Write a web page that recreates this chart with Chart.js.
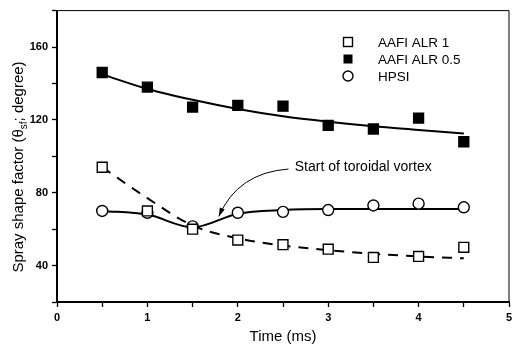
<!DOCTYPE html>
<html>
<head>
<meta charset="utf-8">
<script src="https://cdn.jsdelivr.net/npm/chart.js@4/dist/chart.umd.min.js"></script>
<style>
  html, body { margin: 0; padding: 0; background: #fff; }
  #wrap { width: 513px; height: 350px; }
</style>
</head>
<body>
<div id="wrap"><canvas id="chart" width="513" height="350"></canvas></div>
<script>
// values
const times    = [0.5, 1, 1.5, 2, 2.5, 3, 3.5, 4, 4.5]
const alr1     = [94, 70, 60, 54, 51.5, 49, 44.5, 45, 50]
const alr05    = [146, 138, 127, 128, 127.5, 117, 115, 121, 108]
const hpsi     = [70, 69, 61.5, 69, 69.5, 70.5, 73, 74, 72]
const alr1Fit  = [94, 77, 62, 55, 51, 48.5, 46.5, 45, 44]
const alr05Fit = [145, 137, 131, 126, 122, 119, 116.5, 114.5, 112.5]
const hpsiFit  = [70, 68, 61, 68.5, 70.5, 71, 71, 71, 71]
const yTicks   = [40, 80, 120, 160]
const xTicks   = [0, 1, 2, 3, 4, 5]
const seriesNames = ["AAFI ALR 1", "AAFI ALR 0.5", "HPSI"]

const pts = (ys) => times.map((t, i) => ({ x: t, y: ys[i] }))
const FONT = "'Liberation Sans', Arial, sans-serif"
const TICK_FONT = "bold 11px " + FONT

const markerSet = (label, ys, style, fill, radius) => ({
  label, data: pts(ys), showLine: false,
  pointStyle: style, pointRadius: radius, pointBorderWidth: 1.4,
  pointBackgroundColor: fill, pointBorderColor: "#000", order: 0
})
const fitLine = (ys, dash) => ({
  label: "", data: pts(ys), showLine: true, pointRadius: 0,
  borderColor: "#000", borderWidth: 2, borderDash: dash,
  cubicInterpolationMode: "monotone", order: 1
})

// frame, last x label (clipped like the original), legend, y title, annotation
const extras = {
  id: "extras",
  afterDraw(chart) {
    const { ctx, chartArea: a, scales: { x, y } } = chart
    ctx.save()
    ctx.strokeStyle = "#000"
    ctx.fillStyle = "#000"
    ctx.lineWidth = 1
    ctx.beginPath()
    ctx.moveTo(a.left, a.top); ctx.lineTo(a.right, a.top); ctx.lineTo(a.right, a.bottom)
    ctx.stroke()

    // last x tick label drawn by hand so the plot can reach the right edge
    ctx.font = TICK_FONT
    ctx.textAlign = "center"
    ctx.textBaseline = "top"
    const last = xTicks[xTicks.length - 1]
    ctx.fillText(String(last), x.getPixelForValue(last), x.top + 10)
    ctx.textAlign = "left"

    // legend
    const lx = 348, ly = [42, 59, 76]
    ctx.font = "13.5px " + FONT
    ctx.textBaseline = "middle"
    seriesNames.forEach((name, i) => {
      ctx.lineWidth = 1.4
      if (i === 2) {
        ctx.beginPath(); ctx.arc(lx, ly[i], 5, 0, Math.PI * 2); ctx.stroke()
      } else if (i === 1) {
        ctx.fillRect(lx - 4.5, ly[i] - 4.5, 9, 9)
      } else {
        ctx.strokeRect(lx - 4.5, ly[i] - 4.5, 9, 9)
      }
      ctx.fillText(name, 378, ly[i] + 1)
    })

    // y title
    ctx.save()
    ctx.translate(18, 167)
    ctx.rotate(-Math.PI / 2)
    ctx.textBaseline = "alphabetic"
    const parts = [["Spray shape factor (θ", 15, 0], ["sf", 10, 4], ["; degree)", 15, 0]]
    let w = 0
    parts.forEach(([t, s]) => { ctx.font = s + "px " + FONT; w += ctx.measureText(t).width })
    let cx = -w / 2
    parts.forEach(([t, s, dy]) => {
      ctx.font = s + "px " + FONT
      ctx.fillText(t, cx, 5 + dy)
      cx += ctx.measureText(t).width
    })
    ctx.restore()

    // annotation
    ctx.font = "14px " + FONT
    ctx.textBaseline = "middle"
    ctx.fillText("Start of toroidal vortex", x.getPixelForValue(2.63), y.getPixelForValue(94))
    const sx = x.getPixelForValue(2.56), sy = y.getPixelForValue(93)
    const ex = x.getPixelForValue(1.79), ey = y.getPixelForValue(67)
    const qx = x.getPixelForValue(2.0), qy = y.getPixelForValue(91)
    ctx.lineWidth = 1
    ctx.beginPath(); ctx.moveTo(sx, sy); ctx.quadraticCurveTo(qx, qy, ex, ey); ctx.stroke()
    const ang = Math.atan2(ey - qy, ex - qx)
    ctx.beginPath()
    ctx.moveTo(ex, ey)
    ctx.lineTo(ex - 9 * Math.cos(ang - 0.3), ey - 9 * Math.sin(ang - 0.3))
    ctx.lineTo(ex - 9 * Math.cos(ang + 0.3), ey - 9 * Math.sin(ang + 0.3))
    ctx.closePath(); ctx.fill()
    ctx.restore()
  }
}

new Chart(document.getElementById("chart"), {
  type: "scatter",
  data: {
    datasets: [
      fitLine(alr1Fit, [10, 8]),
      fitLine(alr05Fit, []),
      fitLine(hpsiFit, []),
      markerSet(seriesNames[0], alr1, "rect", "#fff", 7),
      markerSet(seriesNames[1], alr05, "rect", "#000", 7),
      markerSet(seriesNames[2], hpsi, "circle", "#fff", 5.5)
    ]
  },
  options: {
    responsive: false,
    animation: false,
    layout: { autoPadding: false, padding: { top: 10, right: 2, left: 0, bottom: 0 } },
    plugins: { legend: { display: false }, tooltip: { enabled: false } },
    scales: {
      x: {
        type: "linear", min: 0, max: 5,
        afterFit: (s) => { s.height = 48 },
        afterBuildTicks: (s) => { s.ticks = [0, 0.5, 1, 1.5, 2, 2.5, 3, 3.5, 4, 4.5, 5].map(v => ({ value: v })) },
        border: { color: "#000", width: 2 },
        grid: { drawOnChartArea: false, color: "#000", tickLength: 5, tickWidth: 1.3 },
        ticks: {
          color: "#000", font: { family: FONT, size: 11, weight: "bold" }, padding: 4, maxRotation: 0,
          callback: (v) => xTicks.includes(v) && v !== 5 ? String(v) : ""
        },
        title: { display: true, text: "Time (ms)", color: "#000", font: { family: FONT, size: 15 }, padding: { top: 3 } }
      },
      y: {
        type: "linear", min: 20, max: 180,
        afterFit: (s) => { s.width = 57 },
        afterBuildTicks: (s) => { s.ticks = [20, 40, 60, 80, 100, 120, 140, 160, 180].map(v => ({ value: v })) },
        border: { color: "#000", width: 2 },
        grid: { drawOnChartArea: false, color: "#000", tickLength: 5, tickWidth: 1.3 },
        ticks: {
          color: "#000", font: { family: FONT, size: 11, weight: "bold" }, padding: 4,
          callback: (v) => yTicks.includes(v) ? String(v) : ""
        }
      }
    }
  },
  plugins: [extras]
})
</script>
</body>
</html>
